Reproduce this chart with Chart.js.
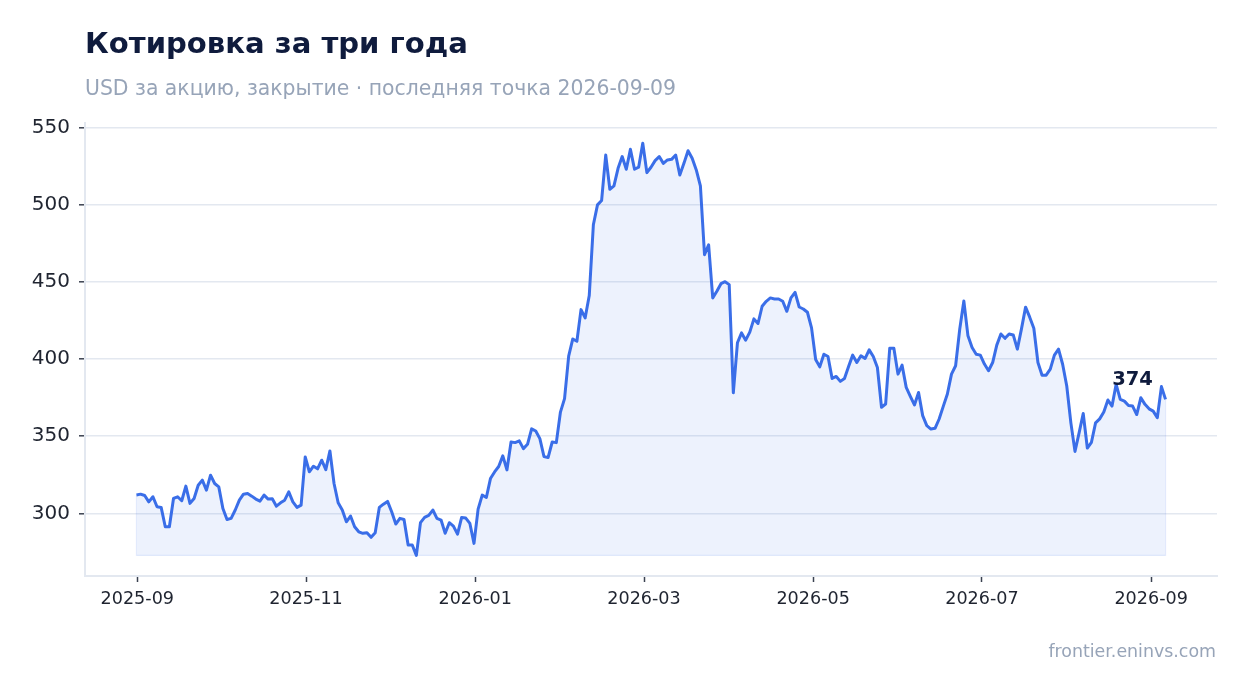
<!DOCTYPE html>
<html lang="ru">
<head>
<meta charset="utf-8">
<title>Котировка за три года</title>
<script src="https://cdn.jsdelivr.net/npm/chart.js@4.4.1/dist/chart.umd.min.js"></script>
<style>
  html, body { margin: 0; padding: 0; background: #ffffff; }
  body { width: 1247px; height: 693px; position: relative; overflow: hidden; font-family: "DejaVu Sans", sans-serif; }
  #chart { position: absolute; left: 0; top: 0; }
  .title { position: absolute; left: 85px; top: 28.7px; font-size: 29.1px; line-height: 29.1px; font-weight: bold; color: #0f1b3d; white-space: nowrap; }
  .subtitle { position: absolute; left: 85px; top: 78px; font-size: 20.4px; line-height: 20.4px; color: #97a4b8; white-space: nowrap; }
  .source { position: absolute; right: 31px; top: 643px; font-size: 17.4px; line-height: 17.4px; color: #97a4b8; white-space: nowrap; }
</style>
</head>
<body>
<canvas id="chart" width="1247" height="693"></canvas>
<div class="title">Котировка за три года</div>
<div class="subtitle">USD за акцию, закрытие · последняя точка 2026-09-09</div>
<div class="source">frontier.eninvs.com</div>
<script>
// Closing prices, USD, oldest first
const closePrices = [
    312.0, 312.5, 311.6, 307.5, 310.8, 304.3, 303.9, 291.4, 291.4, 309.7,
    310.8, 308.2, 317.7, 306.5, 309.7, 318.3, 321.6, 315.1, 324.8, 319.4,
    317.2, 303.2, 296.1, 296.8, 302.2, 308.6, 312.5, 312.9, 311.2, 309.3,
    308.0, 311.9, 309.3, 309.5, 304.7, 306.9, 308.6, 314.0, 307.5, 303.9,
    305.4,
    336.6, 327.0, 330.6, 328.9, 334.5, 328.4, 340.5, 319.4, 306.9, 302.2,
    294.6, 298.3, 291.4, 288.1, 287.1, 287.5, 284.5, 287.5, 303.9, 306.0,
    307.8, 301.1, 293.1, 296.8, 296.1, 279.5, 279.5, 272.8, 294.0, 297.4,
    298.7, 302.2, 296.8, 295.7, 287.1, 294.0, 291.8, 286.6, 297.4, 297.0,
    293.5, 280.6,
    302.8, 311.9, 310.3, 322.6, 326.9, 330.4, 337.3, 328.2, 346.3, 345.9,
    347.0, 342.0, 344.8, 354.8, 353.4, 348.5, 336.9, 336.2, 346.3, 345.9,
    365.7, 374.4, 401.9, 413.1, 411.6, 432.1, 426.7, 441.2, 487.1, 500.0,
    502.8, 532.3, 510.1, 512.3, 523.7, 531.3, 523.1, 536.0, 523.1, 524.4,
    539.9,
    520.9, 524.4, 528.7, 531.3, 526.9, 529.1, 529.5, 532.3, 519.4, 526.9,
    535.1, 530.2, 522.6, 512.3, 467.7, 474.1, 439.7, 444.0, 448.9, 450.2,
    448.3, 378.2, 410.6, 417.0, 412.3, 417.5, 426.1, 423.1, 434.3, 437.5,
    439.7, 439.0, 439.0, 437.5, 431.0, 439.7, 443.3, 433.8, 432.5, 430.4,
    420.3, 399.8, 395.0,
    403.2, 401.7, 387.5, 388.8, 385.6, 387.5, 395.3, 402.6, 397.8, 402.2,
    400.4, 406.0, 401.7, 394.6, 368.8, 370.9, 407.1, 407.1, 390.3, 396.1,
    381.7, 375.9, 370.3, 378.4, 363.4, 356.9, 354.7, 355.2, 361.2, 369.4,
    377.4, 390.3, 395.7, 419.4, 437.7, 415.1, 407.5, 403.2, 402.6, 396.8,
    392.5,
    397.8, 409.1, 416.3, 413.5, 416.3, 415.7, 406.5, 419.6, 433.7, 427.2,
    420.0, 397.8, 389.6, 389.6, 393.5, 402.6, 406.5, 396.7, 382.6, 358.7,
    340.2, 352.2, 364.8, 342.4, 346.1, 358.7, 361.3, 365.7, 373.5, 369.6,
    383.7, 373.9, 372.8, 370.0, 369.6, 364.1, 375.0, 370.7, 367.8, 366.3,
    362.0, 382.2, 373.9
];

// x axis labels, one every two months
const monthLabels = ['2025-09', '2025-11', '2026-01', '2026-03', '2026-05', '2026-07', '2026-09'];
const monthTickPos = [0.2, 41.2, 82.3, 123.3, 164.4, 205.4, 246.5];   // in trading-day index
const priceTicks = [300, 350, 400, 450, 500, 550];

const lastIdx = closePrices.length - 1;
const lo = Math.min(...closePrices);
const hi = Math.max(...closePrices);
const yPad = (hi - lo) * 0.05;
const xPad = lastIdx * 0.05;

const points = closePrices.map((v, i) => ({ x: i, y: v }));

const TICK_COLOR = '#1f2430';
const GRID_COLOR = '#e3e8f0';

const lastLabel = {
    id: 'lastLabel',
    afterDatasetsDraw(chart) {
        const meta = chart.getDatasetMeta(0);
        const pt = meta.data[meta.data.length - 1];
        const ctx = chart.ctx;
        ctx.save();
        ctx.font = 'bold 19.5px "DejaVu Sans"';
        ctx.fillStyle = '#0f1b3d';
        ctx.textAlign = 'center';
        ctx.textBaseline = 'alphabetic';
        ctx.fillText(String(Math.round(closePrices[lastIdx])), pt.x - 33, pt.y - 14);
        ctx.restore();
    }
};

// thin outline around the shaded area, like the reference
const areaEdge = {
    id: 'areaEdge',
    beforeDatasetsDraw(chart) {
        const meta = chart.getDatasetMeta(0);
        const first = meta.data[0];
        const last = meta.data[meta.data.length - 1];
        const yb = chart.scales.y.getPixelForValue(lo);
        const ctx = chart.ctx;
        ctx.save();
        ctx.strokeStyle = 'rgba(59, 110, 230, 0.12)';
        ctx.lineWidth = 1.2;
        ctx.beginPath();
        ctx.moveTo(first.x, first.y);
        ctx.lineTo(first.x, yb);
        ctx.lineTo(last.x, yb);
        ctx.lineTo(last.x, last.y);
        ctx.stroke();
        ctx.restore();
    }
};

new Chart(document.getElementById('chart'), {
    type: 'line',
    data: {
        datasets: [{
            data: points,
            borderColor: '#3a6ee8',
            borderWidth: 3,
            backgroundColor: 'rgba(59, 110, 230, 0.09)',
            fill: { value: lo },
            pointRadius: 0,
            tension: 0,
            borderJoinStyle: 'round'
        }]
    },
    options: {
        responsive: false,
        animation: false,
        devicePixelRatio: 1,
        layout: { padding: { left: 0, right: 30, top: 122.7, bottom: 0 } },
        plugins: {
            legend: { display: false },
            tooltip: { enabled: false }
        },
        scales: {
            x: {
                type: 'linear',
                min: -xPad,
                max: lastIdx + xPad,
                afterBuildTicks: scale => {
                    scale.ticks = monthTickPos.map(v => ({ value: v }));
                },
                afterFit: scale => { scale.height = 117; },
                ticks: {
                    autoSkip: false,
                    maxRotation: 0,
                    padding: 7,
                    color: TICK_COLOR,
                    font: { family: '"DejaVu Sans"', size: 17.6 },
                    callback: (v, i) => monthLabels[i]
                },
                grid: { drawOnChartArea: false, drawTicks: true, tickLength: 6, tickColor: '#3a4150', tickWidth: 1.5 },
                border: { color: GRID_COLOR, width: 2 }
            },
            y: {
                min: lo - yPad,
                max: hi + yPad,
                afterBuildTicks: scale => {
                    scale.ticks = priceTicks.map(v => ({ value: v }));
                },
                afterFit: scale => { scale.width = 85; },
                ticks: {
                    padding: 9,
                    color: TICK_COLOR,
                    font: { family: '"DejaVu Sans"', size: 20 }
                },
                grid: { color: GRID_COLOR, lineWidth: 1.6, tickLength: 6, tickColor: '#3a4150', tickWidth: 1.5 },
                border: { color: GRID_COLOR, width: 2 }
            }
        }
    },
    plugins: [areaEdge, lastLabel]
});
</script>
</body>
</html>
